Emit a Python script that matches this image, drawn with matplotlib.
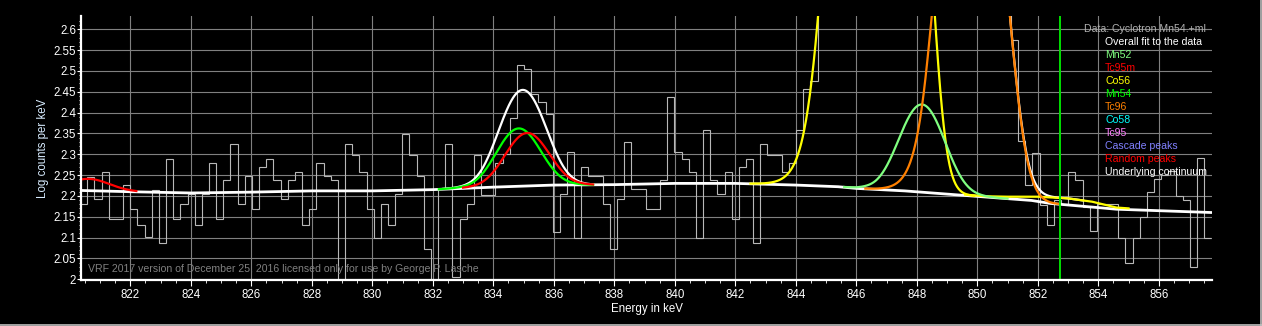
import numpy as np
import matplotlib
matplotlib.use("Agg")
import matplotlib.pyplot as plt
from matplotlib.lines import Line2D

# measured spectrum: log counts per keV in equal energy bins
hist_start = 820.341
bin_kev = 0.2367
hist_log = [
    2.180, 2.246, 2.192, 2.257, 2.144, 2.144, 2.226, 2.168, 2.130, 2.101,
    2.215, 2.086, 2.288, 2.144, 2.181, 2.205, 2.130, 2.205, 2.278, 2.144,
    2.238, 2.324, 2.181, 2.248, 2.168, 2.269, 2.288, 2.238, 2.192, 2.238,
    2.257, 2.130, 2.168, 2.278, 2.248, 2.238, 1.990, 2.325, 2.299, 2.257,
    2.168, 2.100, 2.180, 2.130, 2.205, 2.348, 2.299, 2.248, 2.072, 1.990,
    2.220, 2.325, 2.006, 2.144, 2.180, 2.299, 2.203, 2.203, 2.278, 2.300,
    2.386, 2.515, 2.504, 2.445, 2.425, 2.396, 2.114, 2.204, 2.305, 2.100,
    2.269, 2.248, 2.248, 2.180, 2.072, 2.192, 2.330, 2.216, 2.216, 2.168,
    2.168, 2.238, 2.437, 2.305, 2.288, 2.257, 2.100, 2.358, 2.238, 2.204,
    2.257, 2.144, 2.269, 2.288, 2.086, 2.325, 2.299, 2.299, 2.257, 2.278,
    2.358, 2.456, 2.476,
    2.75, 2.95, 3.10, 3.25, 3.35, 3.40, 3.38, 3.30, 3.15, 3.00,
    2.90, 2.85, 2.90, 3.00, 3.10, 3.15, 3.12, 3.05, 3.10, 3.20,
    3.30, 3.35, 3.30, 3.20, 3.05, 2.90, 2.75,
    2.574, 2.332, 2.225, 2.304, 2.178, 2.130, 2.190, 2.180, 2.257, 2.238,
    2.174, 2.116, 2.181, 2.181, 2.181, 2.100, 2.040, 2.100, 2.150, 2.210,
    2.240, 2.250, 2.260, 2.200, 2.190, 2.030, 2.290, 2.100,
]

# underlying continuum (keV, log counts per keV)
cont_kev = [820.37, 822, 824, 826, 828, 830, 832, 834, 836, 838, 840, 842,
            844, 845.4, 846, 847.6, 849.6, 851.8, 852.4, 854.6, 857.76]
cont_log = [2.213, 2.210, 2.207, 2.209, 2.212, 2.212, 2.215, 2.221, 2.226,
            2.227, 2.230, 2.230, 2.226, 2.222, 2.218, 2.212, 2.201, 2.189,
            2.182, 2.168, 2.160]

# fitted peaks: centroid (keV), net height (counts per keV), drawn range
peak_names = ["Random", "Mn54", "Tc95m", "Co56", "Mn52", "Tc96"]
peak_centre = [820.62, 834.84, 835.12, 846.70, 848.17, 849.79]
peak_height = [11, 63, 57, 13150, 101, 1636]
peak_lo = [820.37, 832.2, 833.0, 842.5, 845.6, 846.3]
peak_hi = [822.2, 837.3, 837.3, 849.9, 851.0, 852.7]
peak_color = ["#FF0000", "#00FF00", "#FF0000", "#FFFF00", "#80FF80", "#FF8000"]
sigma = 0.68
tail = 2.18

# Co56 shoulder above the continuum
shelf_kev = [849.6, 850.3, 851.0, 852.0, 853.0, 853.8, 854.6, 855.0]
shelf_log = [2.203, 2.199, 2.198, 2.198, 2.194, 2.186, 2.172, 2.170]

legend_txt = ["Overall fit to the data", "Mn52", "Tc95m", "Co56", "Mn54", "Tc96",
              "Co58", "Tc95", "Cascade peaks", "Random peaks", "Underlying continuum"]
legend_col = ["#FFFFFF", "#80FF80", "#FF0000", "#FFFF00", "#00FF00", "#FF8000",
              "#00FFFF", "#FF80FF", "#8080FF", "#FF0000", "#FFFFFF"]

marker_kev = 852.75


def cont_at(x):
    return np.interp(x, cont_kev, cont_log)


def peak_shape(x, i):
    z = (x - peak_centre[i]) / sigma
    g = np.where(z < -tail, np.exp(tail ** 2 / 2 + tail * z), np.exp(-z ** 2 / 2))
    return peak_height[i] * g


plt.rcParams["font.family"] = ["Liberation Sans", "DejaVu Sans"]
fs = 7.6      # texts
fs_tick = 8.3
fig = plt.figure(figsize=(12.62, 3.26), dpi=100, facecolor="black")
ax = fig.add_axes([81 / 1262, 1 - 280 / 326, (1212 - 81) / 1262, (280 - 16) / 326])
ax.set_facecolor("black")

ax.set_xlim(820.37, 857.76)
ax.set_ylim(1.998, 2.632)
ax.set_xticks(np.arange(822, 857, 2))
ax.set_xticks(np.arange(820.5, 857.76, 0.5), minor=True)
yt = np.round(np.arange(2.0, 2.61, 0.05), 2)
ax.set_yticks(yt)
ax.set_yticklabels(["%g" % v for v in yt])
ax.set_yticks(np.arange(2.0, 2.63, 0.01), minor=True)
ax.grid(True, which="major", color="#808080", lw=0.8)
ax.set_axisbelow(True)
for s in ["top", "right"]:
    ax.spines[s].set_visible(False)
for s in ["left", "bottom"]:
    ax.spines[s].set_color("white")
    ax.spines[s].set_linewidth(1.6)
ax.tick_params(colors="white", labelsize=fs_tick, width=0.8)
ax.tick_params(axis="x", which="major", length=4, pad=2.5)
ax.tick_params(axis="x", which="minor", length=2.5, color="white")
ax.tick_params(axis="y", which="major", length=3, pad=0.5)
ax.tick_params(axis="y", which="minor", length=1.5, color="white")

ax.set_xlabel("Energy in keV", color="white", fontsize=fs_tick, labelpad=1.5)
ax.set_ylabel("Log counts per keV", color="#D8ECFF", fontsize=fs_tick, labelpad=3)

# histogram of data
edges = hist_start + bin_kev * np.arange(len(hist_log) + 1)
ax.stairs(hist_log, edges, baseline=None, color="#B8B8B8", lw=0.8)

# continuum
ax.plot(cont_kev, cont_log, color="white", lw=2, solid_capstyle="butt")

# overall fit around the 835 keV doublet and the Tc96 foot
for lo, hi, ids in [(832.35, 837.3, [1, 2]), (851.0, 853.5, [4, 5])]:
    x = np.linspace(lo, hi, 300)
    tot = 10 ** cont_at(x) + sum(peak_shape(x, i) for i in ids)
    if hi > 850:
        tot = tot + np.clip(10 ** np.interp(x, shelf_kev, shelf_log) - 10 ** cont_at(x), 0, None)
    ax.plot(x, np.log10(tot), color="white", lw=1.6)

# components
ax.plot(shelf_kev, shelf_log, color="#FFFF00", lw=1.6)
for i in range(len(peak_names)):
    x = np.linspace(peak_lo[i], peak_hi[i], 600)
    y = np.log10(10 ** cont_at(x) + peak_shape(x, i))
    ax.plot(x, y, color=peak_color[i], lw=1.6)

ax.axvline(marker_kev, color="#00E000", lw=1.4)

# watermark and legend texts
ax.text(820.6, 2.024, "VRF 2017 version of December 25, 2016 licensed only for use by George P. Lasche",
        color="#808080", fontsize=fs, va="center", ha="left")
fig.text(1206 / 1262, 1 - 29 / 326, "Data: Cyclotron Mn54.+ml", color="#B0B0B0",
         fontsize=fs, ha="right", va="center")
for k, (t, c) in enumerate(zip(legend_txt, legend_col)):
    fig.text(1105 / 1262, 1 - (42 + 13 * k) / 326, t, color=c, fontsize=fs,
             ha="left", va="center")

# window frame
fig.add_artist(Line2D([0, 1], [0.002, 0.002], color="#C0C0C0", lw=1.2, transform=fig.transFigure))
fig.add_artist(Line2D([0.999, 0.999], [0, 1], color="#C0C0C0", lw=1.2, transform=fig.transFigure))

fig.savefig("out.png", dpi=100, facecolor="black")
